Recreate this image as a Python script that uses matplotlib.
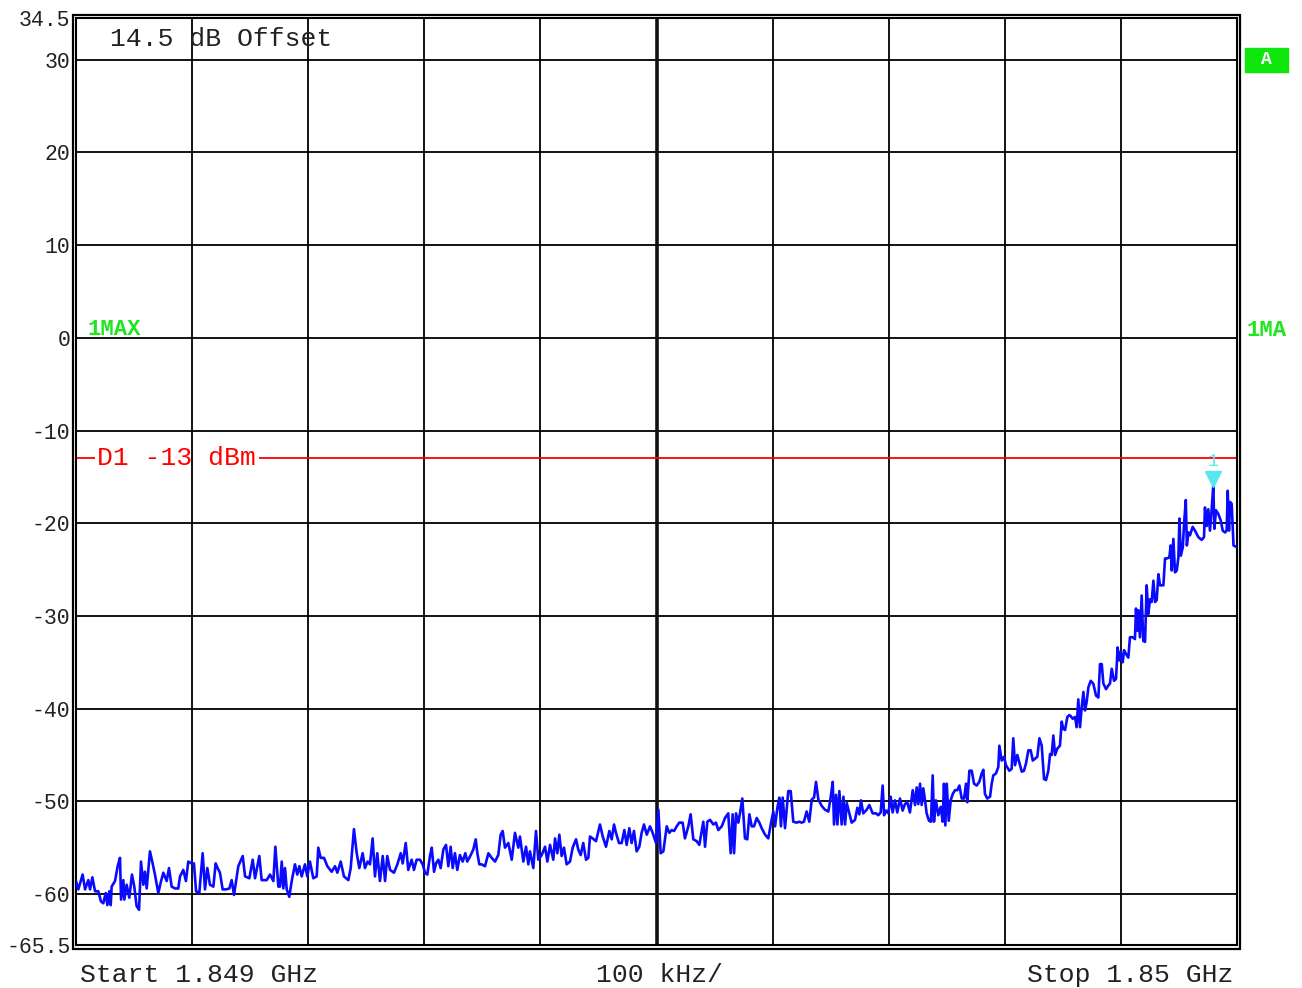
import numpy as np
import matplotlib.pyplot as plt
from matplotlib.patches import Rectangle

plt.rcParams['font.family'] = ['Liberation Mono', 'DejaVu Sans Mono']

# sweep 1.849 GHz .. 1.85 GHz, offsets in kHz from start
span_khz = 1000
ref_top = 34.5
ref_bottom = -65.5
y_ticks = [30, 20, 10, 0, -10, -20, -30, -40, -50, -60]
limit_dbm = -13

freq_khz = [
    0.0, 2.0, 5.7, 7.8, 10.6, 12.1, 14.1, 16.4, 19.2, 21.5, 23.5, 25.6, 27.0, 28.7, 29.9, 30.7,
    33.6, 35.9, 37.9, 38.8, 40.8, 41.6, 43.6, 45.9, 48.2, 50.2, 52.2, 54.3, 56.0, 58.0, 59.4, 60.9,
    63.7, 66.0, 68.0, 70.9, 72.9, 75.2, 78.1, 80.1, 82.4, 85.3, 88.1, 89.6, 92.4, 94.7, 96.7, 99.6,
    101.6, 103.4, 106.2, 109.1, 111.1, 113.1, 115.4, 118.3, 120.3, 122.0, 124.0, 126.3, 129.2, 132.1,
    134.1, 136.1, 139.8, 143.6, 145.6, 149.3, 152.2, 154.2, 157.9, 159.9, 164.3, 167.1, 170.0, 171.7,
    174.3, 175.7, 177.2, 178.6, 180.0, 181.5, 183.7, 185.8, 188.6, 190.6, 192.4, 194.4, 197.2, 199.2,
    201.5, 204.4, 207.3, 208.7, 210.7, 213.6, 216.5, 220.2, 223.1, 225.1, 228.0, 230.8, 234.6, 236.6,
    239.4, 241.8, 244.0, 246.9, 248.9, 251.2, 253.2, 255.5, 257.5, 259.5, 261.8, 264.2, 266.2, 268.1,
    270.5, 273.9, 276.8, 279.7, 281.4, 284.0, 286.2, 289.1, 291.1, 293.4, 296.3, 298.6, 300.6, 302.6,
    304.9, 306.4, 308.4, 310.1, 312.1, 314.1, 316.4, 318.7, 320.7, 322.7, 324.5, 326.4, 328.4, 330.7,
    333.1, 335.3, 337.0, 340.0, 342.2, 344.3, 345.7, 347.4,
    349.4, 352.3, 355.2, 358.0, 360.9, 363.7, 365.8, 367.5, 369.5, 372.4, 375.3, 378.1, 381.0, 382.4,
    385.3, 387.6, 389.6, 391.0, 393.9, 396.2, 398.2, 401.1, 404.0, 406.0, 408.3, 411.1, 412.6, 414.6,
    416.3, 418.3, 420.3, 422.6, 425.5, 427.8, 430.7, 432.6, 434.7, 436.9, 439.3, 441.3, 442.7, 445.0,
    447.9, 451.3, 453.7, 456.5, 459.4, 461.4, 463.4, 465.1, 467.7, 470.0, 472.3, 474.3, 476.6, 478.6,
    480.6, 482.9, 485.2, 487.2, 489.2, 491.6, 494.4, 496.7, 499.6, 501.6, 503.6, 505.9, 508.8, 511.0,
    513.1, 515.1, 517.4, 519.6,
    522.5, 524.5, 527.4, 529.4, 531.7, 534.6, 536.9, 538.9, 540.3, 541.8, 543.8, 546.1, 549.0, 551.2,
    553.2, 556.2, 559.0, 561.8, 563.9, 565.6, 566.8, 568.5, 570.5, 571.9, 573.9, 576.2, 578.2, 580.0,
    582.0, 584.0, 586.3, 588.6, 590.6, 593.5, 596.3, 598.4, 600.6, 602.1, 604.1, 605.8, 607.2, 608.7,
    610.7, 613.5, 615.6, 617.8, 620.7, 623.0, 625.0, 627.0, 629.3, 631.6, 633.7, 635.7, 637.4, 639.4,
    642.3, 645.1, 648.0, 650.0, 651.8, 652.9, 654.6, 655.8, 657.5, 659.5, 661.0, 662.4, 663.9, 666.1,
    668.1, 671.0, 673.0, 674.7, 676.1, 678.1, 681.1, 683.3,
    686.2, 689.1, 691.0, 693.1, 694.8, 696.0, 697.7, 699.7, 701.7, 703.4, 705.4, 707.4, 709.7, 712.0,
    714.0, 716.0, 718.3, 720.7, 722.7, 724.1, 725.5, 727.0, 728.4, 729.8, 731.3, 732.7, 734.7, 736.4,
    737.9, 739.0, 740.7, 742.7, 744.8, 746.5, 747.6, 748.8, 750.0, 751.7, 753.4, 755.2, 757.1, 759.1,
    760.9, 762.9, 764.9, 766.6, 767.7, 769.5, 771.5, 773.5, 775.8, 778.0, 780.1, 781.5, 782.9, 784.9,
    787.3, 788.7, 790.1, 792.4, 794.4, 795.3, 797.3, 799.3, 801.0, 803.9, 805.9, 807.3, 808.8, 810.8,
    812.5, 814.6, 816.5, 818.3, 820.3, 822.3, 824.1, 826.0, 828.0, 829.8, 831.8, 833.8, 835.5, 837.5,
    839.0, 840.4, 841.8, 843.3, 845.3, 847.5, 849.0, 850.4, 851.9, 853.9, 855.6,
    856.7, 858.5, 860.5, 861.9, 863.3, 864.8, 866.2, 867.7, 869.1, 870.5, 872.0, 874.0, 876.2, 878.6,
    880.6, 882.0, 883.5, 884.9, 887.2, 889.2, 890.6, 892.1, 894.1, 895.8, 897.2, 898.6, 899.8, 901.6,
    902.7, 904.4, 906.4, 907.8, 910.1, 912.1, 913.0, 914.1, 915.0, 916.4, 917.9, 919.3, 920.8, 922.2,
    923.6, 925.1, 926.5, 928.0, 929.4, 930.8, 932.3, 933.7, 936.6, 938.0, 939.5, 941.7, 942.9, 943.8,
    945.2, 946.6, 948.1, 949.5, 950.4, 951.6, 953.3, 954.5, 955.9, 956.8, 958.2, 959.5, 961.8, 963.8,
    966.7, 969.6, 971.6, 972.4, 973.9, 975.3, 976.7, 978.2, 979.6, 980.5, 981.9, 983.9, 986.0, 987.7,
    989.7, 991.1, 992.0, 993.1, 994.0, 995.4, 997.0, 1000.0,
]

level_dbm = [
    -58.6, -59.5, -57.9, -59.5, -58.5, -59.5, -58.2, -59.7, -59.7, -60.8, -61.0, -59.9, -61.2, -59.7, -61.2, -59.2,
    -58.6, -57.0, -56.1, -60.6, -58.5, -60.6, -59.0, -60.4, -57.9, -59.2, -61.3, -61.7, -56.5, -59.0, -57.6, -59.4,
    -55.4, -56.7, -57.9, -59.9, -58.8, -57.7, -58.6, -57.2, -59.2, -59.4, -59.4, -58.1, -57.4, -58.6, -56.5, -56.7,
    -56.7, -59.7, -59.9, -55.6, -59.5, -57.2, -59.0, -59.2, -56.7, -57.2, -57.7, -59.5, -59.5, -59.4,
    -58.5, -60.1, -57.0, -55.9, -58.1, -58.3, -56.3, -58.3, -55.9, -58.5, -58.5, -57.9, -58.6, -54.9,
    -59.2, -59.2, -56.5, -59.4, -57.2, -59.5, -60.3, -58.6, -56.8, -57.9, -57.0, -58.1, -56.8, -58.1,
    -56.5, -58.3, -58.1, -55.0, -56.1, -56.1, -57.0, -57.6, -57.0, -57.7, -56.5, -58.1, -58.5, -57.2,
    -53.0, -55.6, -57.2, -55.6, -57.2, -56.5, -56.8, -54.0, -58.1, -55.6, -58.6, -55.9, -58.6, -55.9,
    -57.4, -57.7, -56.8, -55.6, -56.7, -54.5, -57.4, -56.3, -57.4, -56.3, -56.3, -56.8, -57.7, -57.9,
    -55.9, -55.0, -57.6, -56.7, -56.3, -57.2, -55.2, -54.7, -57.0, -54.9, -57.2, -55.6, -57.4, -55.8,
    -56.5, -55.6, -56.5, -55.8, -55.2, -54.1, -55.6, -56.8,
    -56.8, -57.0, -55.6, -56.1, -56.5, -55.8, -53.6, -53.2, -55.0, -54.5, -56.3, -53.4, -55.0, -53.8,
    -56.5, -54.9, -56.8, -55.4, -57.2, -53.2, -56.3, -55.8, -54.9, -56.5, -54.7, -56.3, -54.0, -55.6,
    -53.6, -55.9, -55.0, -56.8, -56.5, -55.0, -54.1, -55.2, -55.8, -54.5, -56.3, -56.1, -53.8, -54.0,
    -54.3, -52.5, -53.8, -54.9, -53.2, -54.1, -52.5, -53.4, -54.5, -54.5, -53.1, -54.7, -52.9, -54.5,
    -53.2, -55.4, -54.9, -53.4, -52.5, -53.6, -52.7, -53.4, -54.5, -50.9, -55.6, -55.4, -52.7, -53.4,
    -53.1, -53.2, -52.7, -52.3,
    -52.3, -54.0, -52.7, -51.4, -54.1, -54.3, -54.7, -53.2, -52.2, -54.9, -52.2, -52.0, -52.5, -52.3,
    -53.1, -52.7, -51.8, -51.3, -55.6, -51.4, -55.6, -51.3, -52.3, -51.3, -49.7, -54.0, -54.1, -51.4,
    -52.7, -52.7, -51.8, -52.3, -52.9, -53.6, -54.0, -52.5, -51.1, -52.7, -50.7, -49.6, -52.7, -49.6,
    -52.9, -48.9, -48.9, -52.2, -52.3, -52.2, -52.3, -52.2, -51.1, -52.2, -49.8, -49.6, -47.9, -49.8,
    -50.5, -50.9, -51.1, -49.6, -47.9, -52.5, -49.3, -52.5, -48.9, -52.5, -49.5, -52.5, -50.2, -51.3,
    -52.3, -52.0, -50.7, -51.4, -49.9, -51.3, -50.9, -50.4,
    -51.3, -51.3, -51.5, -51.2, -48.3, -51.5, -51.0, -51.3, -49.5, -51.2, -49.9, -51.2, -49.7, -51.0,
    -50.3, -50.1, -51.2, -48.8, -50.4, -48.5, -50.3, -48.1, -50.4, -48.6, -49.9, -51.3, -52.1, -52.2,
    -47.2, -52.2, -49.9, -51.5, -50.6, -52.2, -48.1, -52.6, -48.1, -52.1, -49.9, -49.2, -48.8, -48.8,
    -48.3, -49.7, -49.7, -48.1, -50.1, -46.7, -46.7, -48.1, -48.3, -47.9, -47.0, -46.6, -49.2, -49.7,
    -49.5, -48.1, -47.2, -47.0, -46.3, -44.0, -45.6, -45.2, -46.1, -46.7, -46.5, -43.2, -46.1, -45.0,
    -45.8, -46.8, -46.7, -45.9, -44.5, -44.5, -45.6, -45.4, -45.2, -43.2, -44.0, -47.6, -47.7, -46.7,
    -44.9, -45.0, -42.9, -45.0, -44.3, -44.0, -41.4, -42.2, -42.3, -40.9, -40.7,
    -40.8, -41.1, -40.9, -42.0, -39.0, -42.0, -39.9, -38.2, -40.2, -39.3, -37.7, -37.0, -37.3, -38.6,
    -38.8, -35.2, -35.2, -37.3, -37.9, -37.5, -37.3, -35.7, -37.0, -36.8, -33.4, -34.8, -33.9, -35.0,
    -33.7, -34.1, -34.5, -32.3, -32.3, -32.5, -29.2, -31.6, -29.4, -32.3, -27.8, -32.7, -32.8, -26.7,
    -29.8, -28.2, -28.5, -26.2, -28.5, -28.3, -25.5, -26.7, -26.7, -23.8, -23.8, -23.7, -22.4, -25.1,
    -21.7, -25.3, -25.1, -23.7, -19.5, -23.5, -22.6, -19.9, -17.5, -22.4, -21.0, -21.3, -20.4, -20.8,
    -21.5, -21.8, -21.5, -18.3, -20.3, -18.5, -20.8, -18.5, -15.9, -20.6, -18.6, -19.0, -19.7, -20.8,
    -21.0, -20.8, -16.5, -20.8, -17.7, -17.9, -22.4, -22.6,
]

W, H = 1302, 988
fig = plt.figure(figsize=(W / 100, H / 100), dpi=100)
left, right, top, bottom = 76, 1237, 18, 945
ax = fig.add_axes([left / W, 1 - bottom / H, (right - left) / W, (bottom - top) / H])

ax.set_xlim(0, span_khz)
ax.set_ylim(ref_bottom, ref_top)
ax.set_xticks(np.arange(0, span_khz + 1, 100))
ax.set_yticks([ref_top] + y_ticks + [ref_bottom])
ax.set_yticklabels(['34.5'] + [str(v) for v in y_ticks] + ['-65.5'])
ax.tick_params(length=0, labelbottom=False, labelsize=15.5, pad=4, colors='#222222')
ax.grid(True, color='black', lw=1.3)
ax.set_axisbelow(True)
for s in ax.spines.values():
    s.set_linewidth(1.5)
ax.axvline(span_khz / 2, color='#111111', lw=2.6, zorder=1)

# outer line of the double frame
fig.patches.append(Rectangle(((left - 3) / W, 1 - (bottom + 4) / H), (right - left + 6) / W,
                             (bottom - top + 7) / H, transform=fig.transFigure, fill=False,
                             lw=1.6, ec='black'))

# trace
ax.plot(freq_khz, level_dbm, color='#0a0aff', lw=1.9, zorder=3)

# display line D1 (broken where its label sits)
ax.hlines([limit_dbm, limit_dbm], [0, 158], [16, span_khz], color='red', lw=1.3, zorder=2)
ax.text(18, limit_dbm, 'D1 -13 dBm', color='red', fontsize=19, va='center', ha='left')

ax.text(29, 32.2, '14.5 dB Offset', color='#222222', fontsize=19, va='center', ha='left')
ax.text(10, 0.9, '1MAX', color='#1ee61e', fontsize=16, fontweight='bold', va='center', ha='left')

# marker 1 on the peak
i_pk = int(np.argmax(level_dbm))
ax.plot(freq_khz[i_pk], level_dbm[i_pk] + 0.7, marker='v', ms=12, color='#5ae6f0',
        mec='#5ae6f0', zorder=4, clip_on=False)
ax.text(freq_khz[i_pk], level_dbm[i_pk] + 2.6, '1', color='#5ae6f0', fontsize=13,
        ha='center', va='center', zorder=4)

# right side annotations
fig.patches.append(Rectangle((1245 / W, 1 - 72 / H), 43 / W, 24 / H, transform=fig.transFigure,
                             color='#0ee60e'))
fig.text(1266.5 / W, 1 - 60 / H, 'A', color='white', fontsize=13, fontweight='bold',
         ha='center', va='center')
fig.text(1247 / W, 1 - 330 / H, '1MA', color='#1ee61e', fontsize=16, fontweight='bold',
         ha='left', va='center')

# bottom labels
fig.text(80 / W, 1 - 975 / H, 'Start 1.849 GHz', fontsize=19, color='#222222', ha='left', va='center')
fig.text(596 / W, 1 - 975 / H, '100 kHz/', fontsize=19, color='#222222', ha='left', va='center')
fig.text(1233 / W, 1 - 975 / H, 'Stop 1.85 GHz', fontsize=19, color='#222222', ha='right', va='center')

fig.savefig('out.png', dpi=100)
